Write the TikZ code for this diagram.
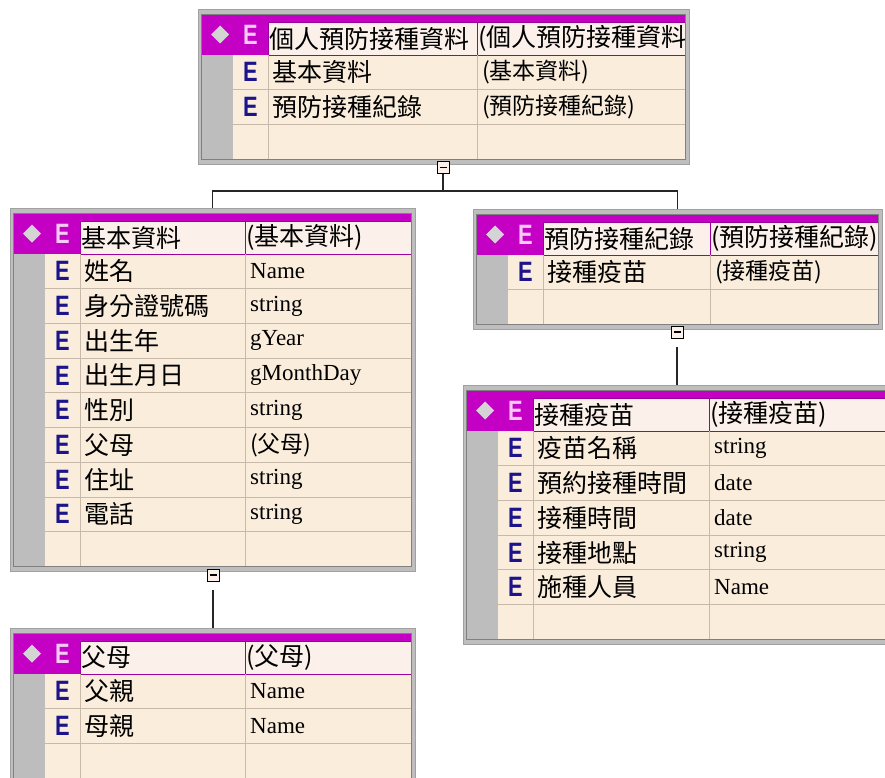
\documentclass[tikz,border=0pt]{standalone}
\usepackage{fontspec}
\setmainfont{Liberation Serif}
\newfontfamily\cjk{Noto Sans CJK TC}
\newfontfamily\esans{Liberation Sans}

\definecolor{cream}{RGB}{250,237,220}
\definecolor{hcream}{RGB}{252,241,234}
\definecolor{mag}{RGB}{196,0,196}
\definecolor{framegray}{RGB}{190,190,190}
\definecolor{stripegray}{RGB}{189,189,189}
\definecolor{rowline}{RGB}{200,186,170}
\definecolor{eblue}{RGB}{28,20,140}
\definecolor{epink}{RGB}{246,204,246}

% one element table: name, left, top, name width, type width,
% header name, header type, rows (name/type), number of rows
\newcommand\etable[9]{%
  \pgfmathsetmacro\xa{#2+3}
  \pgfmathsetmacro\xb{\xa+32}
  \pgfmathsetmacro\xc{\xb+35}
  \pgfmathsetmacro\xd{\xc+#4}
  \pgfmathsetmacro\xe{\xd+#5}
  \pgfmathsetmacro\yh{#3+5}
  \pgfmathsetmacro\yr{\yh+41}
  \pgfmathsetmacro\yz{\yr+#9*34.7}
  \pgfmathsetmacro\fw{\xe+4-#2}
  \pgfmathsetmacro\fh{\yz+5-#3}
  \pgfmathsetmacro\ym{\yh+24.5}
  \node[tframe, minimum width=\fw pt, minimum height=\fh pt, anchor=north west] (#1) at (#2,#3) {};
  \fill[cream] (\xb,\yr) rectangle (\xe,\yz);
  \fill[stripegray] (\xa,\yr) rectangle (\xb,\yz);
  % header
  \fill[mag] (\xa,\yh) rectangle (\xe,\yr);
  \filldraw[hcell] (\xc,\yh+8) rectangle (\xd,\yr);
  \filldraw[hcell] (\xd,\yh+8) rectangle (\xe,\yr);
  \fill[diamondgray] (\xa+10,\yh+20.5) -- (\xa+19,\yh+11.5) -- (\xa+28,\yh+20.5) -- (\xa+19,\yh+29.5) -- cycle;
  \node[hecell] (#1-he) at ({(\xb+\xc)/2},\yh+20.5) {E};
  \begin{scope}
    \clip (\xc,\yh) rectangle (\xd,\yr);
    \node[hname] (#1-hn) at (\xc+1,\ym) {#6};
  \end{scope}
  \begin{scope}
    \clip (\xd,\yh) rectangle (\xe,\yr);
    \node[hname] (#1-ht) at (\xd+1,\ym) {#7};
  \end{scope}
  % rows
  \foreach \k in {1,...,#9}
    \draw[rowsep] (\xb,\yr+\k*34.7) -- (\xe,\yr+\k*34.7);
  \draw[rowsep] (\xc,\yr) -- (\xc,\yz);
  \draw[rowsep] (\xd,\yr) -- (\xd,\yz);
  \draw[innerframe] (\xa,\yh) rectangle (\xe,\yz);
  \foreach \n/\t [count=\i] in {#8} {
    \pgfmathsetmacro\yy{\yr+(\i-0.5)*34.7}
    \node[ecell] (#1-e\i) at ({(\xb+\xc)/2},\yy) {E};
    \node[rname] (#1-n\i) at (\xc+4,\yy) {\n};
    \node[rtype] (#1-t\i) at (\xd+5,\yy) {\t};
  }
}

\begin{document}
\begin{tikzpicture}[x=1pt, y=-1pt,
    tframe/.style={rectangle, fill=framegray, draw=framegray!85!black, inner sep=0pt},
    innerframe/.style={draw=black!50, line width=0.8pt},
    hcell/.style={fill=hcream, draw=mag!80!black, line width=0.8pt},
    diamondgray/.style={fill=black!17},
    rowsep/.style={draw=rowline, line width=0.8pt},
    hecell/.style={text=epink, font=\esans\bfseries\fontsize{28}{28}\selectfont, xscale=0.78, inner sep=0pt},
    ecell/.style={text=eblue, font=\esans\bfseries\fontsize{28}{28}\selectfont, xscale=0.78, inner sep=0pt},
    hname/.style={anchor=west, inner sep=0pt, font=\cjk\fontsize{25}{29}\selectfont},
    rname/.style={anchor=west, inner sep=0pt, font=\cjk\fontsize{25}{29}\selectfont},
    rtype/.style={anchor=west, inner sep=0pt, font=\fontsize{23}{27}\selectfont},
    expbox/.style={rectangle, draw=black, fill=hcream, line width=1pt, minimum size=12pt, inner sep=0pt,
      path picture={\draw[line width=1.8pt] ([xshift=2.5pt]path picture bounding box.west) -- ([xshift=-2.5pt]path picture bounding box.east);}},
    conn/.style={draw=black!85, line width=1.1pt}
  ]
  \clip (0,0) rectangle (885,778);
  \fill[white] (0,0) rectangle (885,778);

  % tables
  \etable{t0}{198}{9}{209}{208}{個人預防接種資料}{(個人預防接種資料}{基本資料/{\cjk(基本資料)}, 預防接種紀錄/{\cjk(預防接種紀錄)}}{3}
  \etable{t1}{10}{208}{165}{166}{基本資料}{(基本資料)}{姓名/Name, 身分證號碼/string, 出生年/gYear, 出生月日/gMonthDay, 性別/string, 父母/{\cjk(父母)}, 住址/string, 電話/string}{9}
  \etable{t2}{473}{209}{167}{168}{預防接種紀錄}{(預防接種紀錄)}{接種疫苗/{\cjk(接種疫苗)}}{2}
  \etable{t3}{463}{385}{176}{176}{接種疫苗}{(接種疫苗)}{疫苗名稱/string, 預約接種時間/date, 接種時間/date, 接種地點/string, 施種人員/Name}{6}
  \etable{t4}{10}{628}{165}{166}{父母}{(父母)}{父親/Name, 母親/Name}{3}

  % expand boxes
  \node[expbox] (x0) at (443,167.5) {};
  \node[expbox] (x1) at (213,575) {};
  \node[expbox] (x2) at (677,332) {};
  \coordinate (bus) at (443,191);

  % connectors
  \draw[conn] (x0) -- (bus) -| (t1.north);
  \draw[conn] (bus) -| (t2.north);
  \draw[conn] ([yshift=-8pt]x1.south) -- (x1 |- t4.north);
  \draw[conn] ([yshift=-8pt]x2.south) -- (x2 |- t3.north);
\end{tikzpicture}
\end{document}
